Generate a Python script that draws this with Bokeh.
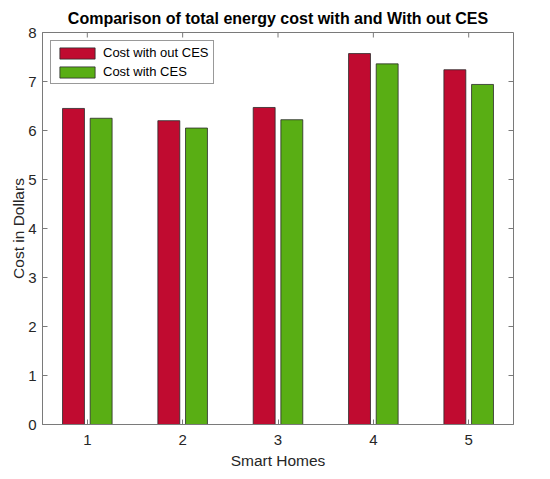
import math
from bokeh.plotting import figure
from bokeh.models import FixedTicker, Legend, LegendItem, ColumnDataSource, Range1d
from bokeh.embed import file_html
from bokeh.resources import INLINE

homes = [1, 2, 3, 4, 5]
cost_without_ces = [6.45, 6.20, 6.47, 7.57, 7.24]
cost_with_ces = [6.25, 6.05, 6.22, 7.36, 6.94]
x_ticks = [1, 2, 3, 4, 5]
y_ticks = [0, 1, 2, 3, 4, 5, 6, 7, 8]
series_labels = ["Cost with out CES", "Cost with CES"]

RED = "#C00B30"
GREEN = "#59AE14"
AXIS = "#7a7a7a"
TEXT = "#262626"
FONT = "Liberation Sans"

offset = 0.145
bar_w = 0.23

src = ColumnDataSource(dict(
    x_red=[h - offset for h in homes],
    x_green=[h + offset for h in homes],
    red=cost_without_ces,
    green=cost_with_ces,
))

x_rng = Range1d(0.53, 5.47)
y_rng = Range1d(0, 8)

p = figure(
    frame_width=471, frame_height=392,
    x_range=x_rng, y_range=y_rng,
    output_backend="svg", toolbar_location=None,
    min_border_left=42, min_border_right=37, min_border_top=32, min_border_bottom=47,
    background_fill_color="white", border_fill_color="white",
)
p.outline_line_color = AXIS
p.outline_line_width = 1
p.xgrid.visible = False
p.ygrid.visible = False

p.title.text = "Comparison of total energy cost with and With out CES"
p.title.align = "center"
p.title.text_font = FONT
p.title.text_font_size = "16px"
p.title.text_font_style = "bold"
p.title.text_color = "black"
p.title.standoff = 12

r_red = p.vbar(x="x_red", top="red", width=bar_w, source=src,
               fill_color=RED, line_color="#2a2a2a", line_width=0.8)
r_green = p.vbar(x="x_green", top="green", width=bar_w, source=src,
                 fill_color=GREEN, line_color="#2a2a2a", line_width=0.8)

def style_axis(ax, ticks):
    ax.ticker = FixedTicker(ticks=ticks)
    ax.major_tick_in = 5
    ax.major_tick_out = 0
    ax.minor_tick_in = 0
    ax.minor_tick_out = 0
    ax.axis_line_color = AXIS
    ax.major_tick_line_color = AXIS
    ax.major_label_text_font = FONT
    ax.major_label_text_font_size = "15px"
    ax.major_label_text_color = TEXT
    ax.axis_label_text_font = FONT
    ax.axis_label_text_font_size = "15.5px"
    ax.axis_label_text_font_style = "normal"
    ax.axis_label_text_color = TEXT

xa = p.xaxis[0]
style_axis(xa, x_ticks)
xa.axis_label = "Smart Homes"
xa.major_label_standoff = 10
xa.axis_label_standoff = 4

ya = p.yaxis[0]
style_axis(ya, y_ticks)
ya.axis_label = "Cost in Dollars"
ya.major_label_standoff = 6
ya.axis_label_standoff = -2

# mirrored tick marks on the top and right edges of the box
p.ray(x=x_ticks, y=[y_rng.end] * len(x_ticks), length=5, length_units="screen",
      angle=-math.pi / 2, line_color=AXIS, line_width=1)
p.ray(x=[x_rng.end] * len(y_ticks), y=y_ticks, length=5, length_units="screen",
      angle=math.pi, line_color=AXIS, line_width=1)

legend = Legend(items=[
    LegendItem(label=series_labels[0], renderers=[r_red]),
    LegendItem(label=series_labels[1], renderers=[r_green]),
], location="top_left")
legend.margin = 8
legend.padding = 4
legend.spacing = 4
legend.glyph_width = 44
legend.glyph_height = 14
legend.label_height = 14
legend.label_standoff = 4
legend.label_text_font = FONT
legend.label_text_font_size = "13px"
legend.label_text_color = "black"
legend.border_line_color = "#333333"
legend.border_line_width = 1
legend.background_fill_color = "white"
legend.background_fill_alpha = 1
p.add_layout(legend)

open("out.html", "w").write(file_html(p, INLINE))
